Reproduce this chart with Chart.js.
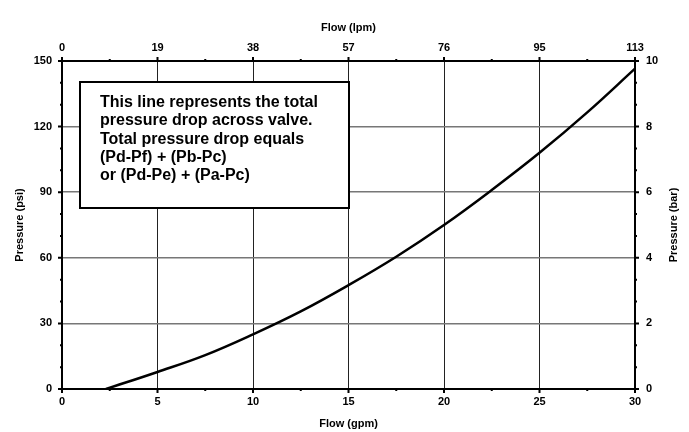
<!DOCTYPE html>
<html>
<head>
<meta charset="utf-8">
<script src="https://cdn.jsdelivr.net/npm/chart.js@4.4.0/dist/chart.umd.min.js"></script>
<style>
  html, body { margin: 0; padding: 0; background: #fff; }
  #wrap { width: 689px; height: 432px; }
</style>
</head>
<body>
<div id="wrap"><canvas id="chart"></canvas></div>
<script>
// curve
const flowGpm = [2.3, 5, 7.5, 10, 12.5, 15, 17.5, 20, 22.5, 25, 27.5, 30];
const pressurePsi = [0, 7.8, 15.5, 25, 35.5, 47.5, 60.5, 75, 91, 108, 126.5, 146.5];

// top axis labels (lpm) at every 5 gpm
const lpmLabels = ["0", "19", "38", "57", "76", "95", "113"];

const noteLines = [
  "This line represents the total",
  "pressure drop across valve.",
  "Total pressure drop equals",
  "(Pd-Pf) + (Pb-Pc)",
  "or (Pd-Pe) + (Pa-Pc)",
];

const FONT = "'Liberation Sans', Arial, sans-serif";
const tickFont = { family: FONT, size: 11, weight: "bold" };

const decor = {
  id: "decor",
  afterDatasetsDraw(chart) {
    const { ctx, scales } = chart;
    const x = scales.x, y = scales.y;
    // note box
    const l = Math.round(x.getPixelForValue(0.94));
    const r = Math.round(x.getPixelForValue(15));
    const t = Math.round(y.getPixelForValue(140.5));
    const b = Math.round(y.getPixelForValue(83));
    ctx.save();
    ctx.fillStyle = "#fff";
    ctx.fillRect(l, t, r - l, b - t);
    ctx.lineWidth = 2;
    ctx.strokeStyle = "#000";
    ctx.strokeRect(l, t, r - l, b - t);
    ctx.fillStyle = "#000";
    ctx.font = "bold 16px " + FONT;
    ctx.textBaseline = "alphabetic";
    noteLines.forEach((s, i) => ctx.fillText(s, l + 20, t + 25 + i * 18.3));
    ctx.restore();
  },
  afterDraw(chart) {
    const { ctx, scales, chartArea: a } = chart;
    ctx.save();
    ctx.strokeStyle = "#000";
    ctx.lineWidth = 2;
    ctx.beginPath();
    // bottom and top: every 2.5 gpm
    for (let i = 0; i <= 12; i++) {
      const px = scales.x.getPixelForValue(i * 2.5);
      const len = i % 2 === 0 ? 4 : 2;
      ctx.moveTo(px, a.bottom); ctx.lineTo(px, a.bottom + len);
      ctx.moveTo(px, a.top); ctx.lineTo(px, a.top - len);
    }
    // left: every 10 psi
    for (let i = 0; i <= 15; i++) {
      const py = scales.y.getPixelForValue(i * 10);
      const len = i % 3 === 0 ? 4 : 2;
      ctx.moveTo(a.left, py); ctx.lineTo(a.left - len, py);
    }
    // right: thirds of 2 bar
    for (let i = 0; i <= 15; i++) {
      const py = scales.y2.getPixelForValue(i * 2 / 3);
      const len = i % 3 === 0 ? 4 : 2;
      ctx.moveTo(a.right, py); ctx.lineTo(a.right + len, py);
    }
    ctx.stroke();

    // right axis title reads bottom-to-top like the left one
    ctx.translate(674, (a.top + a.bottom) / 2);
    ctx.rotate(-Math.PI / 2);
    ctx.font = "bold 11px " + FONT;
    ctx.fillStyle = "#000";
    ctx.textAlign = "center";
    ctx.textBaseline = "middle";
    ctx.fillText("Pressure (bar)", 0, 0);
    ctx.restore();
  },
};

new Chart(document.getElementById("chart").getContext("2d"), {
  type: "line",
  data: {
    datasets: [
      {
        data: flowGpm.map((v, i) => ({ x: v, y: pressurePsi[i] })),
        borderColor: "#000",
        borderWidth: 2.5,
        pointRadius: 0,
        tension: 0.4,
        fill: false,
        xAxisID: "x",
        yAxisID: "y",
      },
    ],
  },
  options: {
    responsive: true,
    maintainAspectRatio: false,
    animation: false,
    events: [],
    layout: { padding: 0 },
    plugins: { legend: { display: false }, tooltip: { enabled: false } },
    scales: {
      x: {
        type: "linear",
        position: "bottom",
        min: 0,
        max: 30,
        ticks: { stepSize: 5, color: "#000", font: tickFont, padding: 6, maxRotation: 0 },
        grid: { color: "#222", lineWidth: 1, drawTicks: false },
        border: { color: "#000", width: 2 },
        title: { display: true, text: "Flow (gpm)", color: "#000", font: tickFont, padding: { top: 0, bottom: 1.4 } },
        afterFit: (s) => { s.height = 43; },
      },
      x2: {
        type: "linear",
        position: "top",
        min: 0,
        max: 30,
        ticks: { stepSize: 5, color: "#000", font: tickFont, padding: 6, maxRotation: 0,
          callback: (v, i) => lpmLabels[i] },
        grid: { display: false, drawTicks: false },
        border: { color: "#000", width: 2 },
        title: { display: true, text: "Flow (lpm)", color: "#000", font: tickFont, padding: { top: 21.4, bottom: 0 } },
        afterFit: (s) => { s.height = 61; },
      },
      y: {
        type: "linear",
        position: "left",
        min: 0,
        max: 150,
        ticks: { stepSize: 30, color: "#000", font: tickFont, padding: 10 },
        grid: { color: "#777", lineWidth: 1.5, drawTicks: false },
        border: { color: "#000", width: 2 },
        title: { display: true, text: "Pressure (psi)", color: "#000", font: tickFont, padding: { top: 13.4, bottom: 0 } },
        afterFit: (s) => { s.width = 62; },
      },
      y2: {
        type: "linear",
        position: "right",
        min: 0,
        max: 10,
        ticks: { stepSize: 2, color: "#000", font: tickFont, padding: 11 },
        grid: { display: false, drawTicks: false },
        border: { color: "#000", width: 2 },
        title: { display: false },
        afterFit: (s) => { s.width = 54; },
      },
    },
  },
  plugins: [decor],
});
</script>
</body>
</html>
